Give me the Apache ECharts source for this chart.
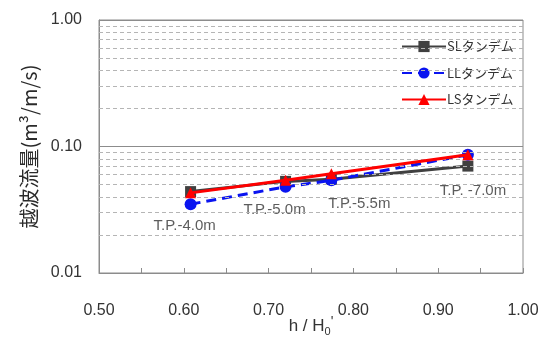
<!DOCTYPE html>
<html>
<head>
<meta charset="utf-8">
<script src="https://cdn.jsdelivr.net/npm/echarts@6/dist/echarts.min.js"></script>
<style>html,body{margin:0;padding:0;background:#fff;}#c{width:549px;height:342px;}</style>
</head>
<body>
<div id="c"></div>
<script>
// x positions (h / H0')
const xValues = [0.608, 0.720, 0.774, 0.935];
// series values (越波流量 m3/m/s)
const slValues = [0.044, 0.053, 0.055, 0.070];
const llValues = [0.035, 0.048, 0.054, 0.086];
const lsValues = [0.043, 0.054, 0.061, 0.086];
const seriesNames = ['SLタンデム', 'LLタンデム', 'LSタンデム'];
// annotation labels (data coordinates)
const annotTexts = ['T.P.-4.0m', 'T.P.-5.0m', 'T.P.-5.5m', 'T.P. -7.0m'];
const annotX = [0.601, 0.707, 0.807, 0.941];
const annotY = [0.0235, 0.0315, 0.0351, 0.0447];
// minor log gridlines
const minorGrid = [0.02,0.03,0.04,0.05,0.06,0.07,0.08,0.09,0.2,0.3,0.4,0.5,0.6,0.7,0.8,0.9];

const FONT = "'Liberation Sans', 'Noto Sans CJK JP', sans-serif";
const zip = (xs, ys) => xs.map((x, i) => [x, ys[i]]);

const chart = echarts.init(document.getElementById('c'));
chart.setOption({
  animation: false,
  textStyle: { fontFamily: FONT },
  grid: { left: 99, right: 26, top: 20, bottom: 69, show: true, borderColor: '#8c8c8c', borderWidth: 1, containLabel: false, outerBoundsMode: 'none' },
  legend: {
    orient: 'vertical', left: 396, top: 35,
    itemWidth: 44, itemHeight: 14, itemGap: 13.5,
    textStyle: { fontFamily: "'Noto Sans CJK JP', sans-serif", fontSize: 13, color: '#333', padding: [0, 0, 0, -4] },
    data: seriesNames
  },
  xAxis: {
    type: 'value', min: 0.5, max: 1.0, interval: 0.05,
    axisLine: { show: true, lineStyle: { color: '#8c8c8c' } },
    axisTick: { show: true, inside: true, length: 5, lineStyle: { color: '#8c8c8c' } },
    splitLine: { show: false },
    axisLabel: {
      margin: 30, fontSize: 16, color: '#333', fontFamily: FONT,
      formatter: v => (Math.round(v * 100) % 10 === 0 ? v.toFixed(2) : '')
    },
    name: "{a|h / H}{b|0}{c|'}",
    nameLocation: 'middle', nameGap: 42, nameMoveOverlap: false,
    nameTextStyle: {
      rich: {
        a: { fontSize: 17, color: '#333', fontFamily: FONT, lineHeight: 22, verticalAlign: 'middle' },
        b: { fontSize: 11, color: '#333', fontFamily: FONT, lineHeight: 22, verticalAlign: 'bottom', padding: [8, 0, 0, 0] },
        c: { fontSize: 14, color: '#333', fontFamily: FONT, lineHeight: 22, verticalAlign: 'top' }
      }
    }
  },
  yAxis: {
    type: 'log', logBase: 10, min: 0.01, max: 1,
    axisLine: { show: true, lineStyle: { color: '#8c8c8c' } },
    axisTick: { show: false },
    splitLine: { show: true, lineStyle: { color: '#8c8c8c', width: 1 } },
    axisLabel: { margin: 17, fontSize: 16, color: '#333', fontFamily: FONT, formatter: v => v.toFixed(2) },
    name: '越波流量(m³/m/s)',
    nameLocation: 'middle', nameGap: 60, nameRotate: 90, nameMoveOverlap: false,
    nameTextStyle: { fontSize: 20, color: '#2a2a2a', fontFamily: "'Noto Sans CJK JP', sans-serif" }
  },
  series: [
    {
      name: 'grid-minor', type: 'line', data: [], silent: true,
      markLine: {
        silent: true, symbol: 'none', label: { show: false },
        lineStyle: { color: '#b5b5b5', type: [4, 3], width: 1 },
        data: minorGrid.map(v => ({ yAxis: v }))
      }
    },
    {
      name: seriesNames[0], type: 'line', data: zip(xValues, slValues),
      symbol: 'rect', symbolSize: 11, z: 3,
      lineStyle: { color: '#404040', width: 3 }, itemStyle: { color: '#404040' }
    },
    {
      name: seriesNames[1], type: 'line', data: zip(xValues, llValues),
      symbol: 'circle', symbolSize: 12, z: 4,
      lineStyle: { color: '#0a14f0', width: 3, type: [10, 6] }, itemStyle: { color: '#0a14f0' }
    },
    {
      name: seriesNames[2], type: 'line', data: zip(xValues, lsValues),
      symbol: 'triangle', symbolSize: 11, z: 5,
      lineStyle: { color: '#ff0000', width: 3 }, itemStyle: { color: '#ff0000' }
    },
    {
      name: 'annotations', type: 'scatter', symbolSize: 0, silent: true,
      data: annotX.map((x, i) => ({ value: [x, annotY[i]], name: annotTexts[i] })),
      label: { show: true, position: 'inside', formatter: p => p.name, fontSize: 15, color: '#333', fontFamily: FONT }
    }
  ]
});
</script>
</body>
</html>
